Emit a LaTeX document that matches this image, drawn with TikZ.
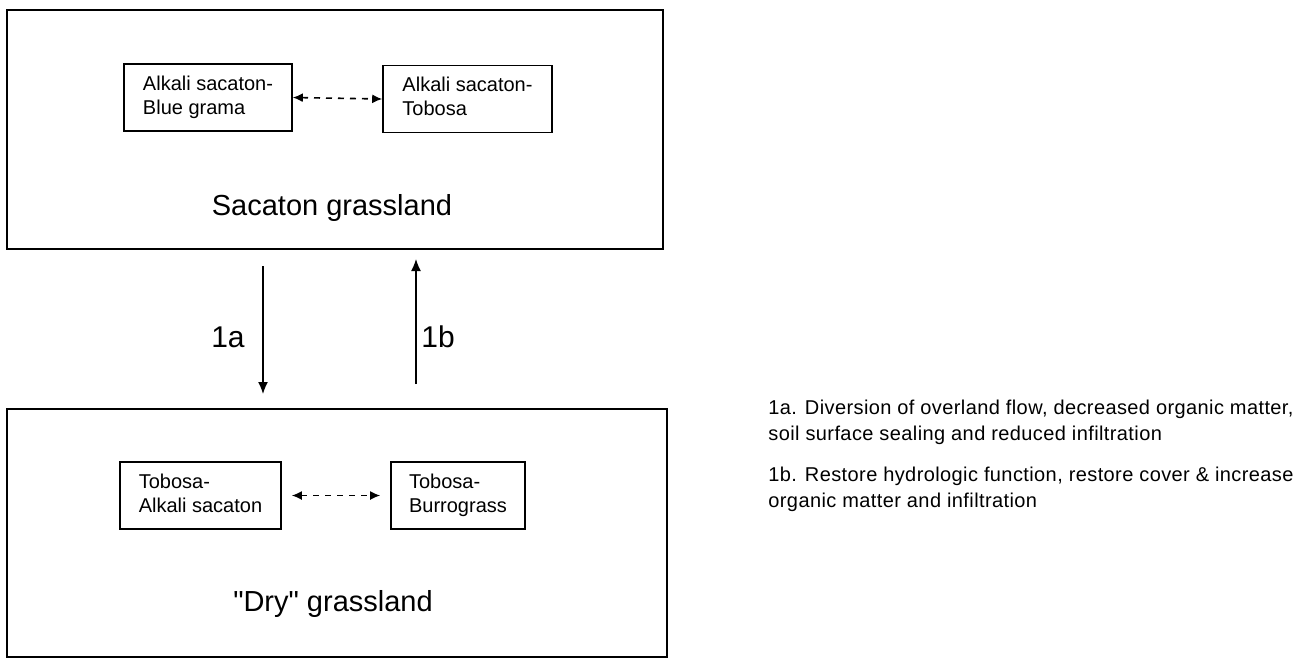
\documentclass[tikz,border=0pt]{standalone}
\usepackage{fontspec}
\setmainfont{Liberation Sans}
\newfontfamily\legendfont[LetterSpace=2]{Liberation Sans}
\newfontfamily\straightfont[Ligatures=TeXOff]{Liberation Sans}
\usepackage{tikz}
\usetikzlibrary{positioning}
\usetikzlibrary{arrows.meta}
\usetikzlibrary{arrows,shapes}
\usetikzlibrary{calc}

\begin{document}
\begin{tikzpicture}[x=0.5pt,y=-0.5pt]

      \useasboundingbox (0,0) rectangle (1311,659);

      \def\statewidth{328pt}
      \def\stateheight{120pt}

      % big boxes
      \node (sacaton) at (335, 129.5)
        [draw, line width=1pt, minimum width=\statewidth, minimum height=119.5pt] {};
      \node (dry)     at (337, 533)
        [draw, line width=1pt, minimum width=330pt, minimum height=124pt] {};

      \node (name1) at (332, 208) {\fontsize{14.5}{16}\selectfont Sacaton grassland};
      \node (name2) at (333, 604) {\straightfont\fontsize{14.5}{16}\selectfont "Dry" grassland};

      % community boxes
      \tikzset{community/.style={draw, line width=0.8pt, inner sep=0pt,
        minimum height=33.5pt, align=left, font=\fontsize{10}{12}\selectfont}}

      \node (comm1) at (208, 97.5)   [community, minimum width=84pt]
        {\begin{tabular}{@{}l@{}}Alkali sacaton-\\Blue grama\end{tabular}};
      \node (comm2) at (467.5, 99)   [community, minimum width=84.5pt]
        {\begin{tabular}{@{}l@{}}Alkali sacaton-\\Tobosa\end{tabular}};
      \node (comm3) at (200.5, 495.5) [community, minimum width=80.5pt]
        {\begin{tabular}{@{}l@{}}Tobosa-\\Alkali sacaton\end{tabular}};
      \node (comm4) at (458, 495.5)  [community, minimum width=67pt]
        {\begin{tabular}{@{}l@{}}Tobosa-\\Burrograss\end{tabular}};

      \tikzset{swaparrow/.style={{Latex[length=5pt,width=4.5pt]}-{Latex[length=5pt,width=4.5pt]},
        dashed, line width=0.8pt}}
      \draw[swaparrow] (comm1.east) -- (comm2.west);
      \draw[swaparrow, shorten <=5pt, shorten >=5pt] (comm3.east) -- (comm4.west);

      % transitions
      \tikzset{transition/.style={-{Latex[length=6pt,width=5pt]}, line width=0.7pt}}
      \draw[transition] ($(sacaton.south)+(-72,16)$) -- ($(dry.north)+(-74,-14)$);
      \draw[transition] ($(dry.north)+(79,-24)$) -- ($(sacaton.south)+(81,9)$);

      \node (label1a) at (228, 337) {\fontsize{15}{17}\selectfont 1a};
      \node (label1b) at (438, 337) {\fontsize{15}{17}\selectfont 1b};

      \node (legend) at (768, 456) [anchor=west, inner sep=0pt] {
        {\legendfont\fontsize{10}{13}\selectfont
        \begin{tabular}{@{}l@{}}
          1a. Diversion of overland flow, decreased organic matter,\\
          soil surface sealing and reduced infiltration\\[7.5pt]
          1b. Restore hydrologic function, restore cover \& increase\\
          organic matter and infiltration
        \end{tabular}}};

    \end{tikzpicture}
\end{document}
